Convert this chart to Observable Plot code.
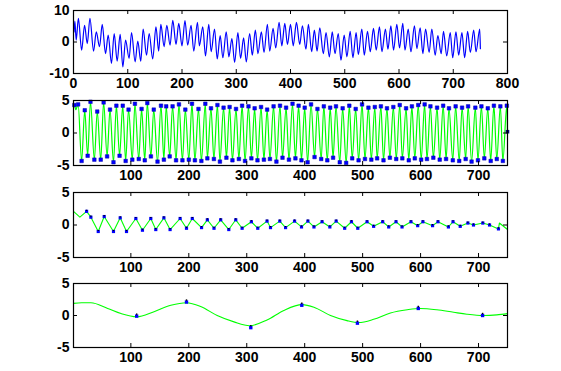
<!DOCTYPE html>
<html><head><meta charset="utf-8">
<script src="https://cdn.jsdelivr.net/npm/d3@7"></script>
<script src="https://cdn.jsdelivr.net/npm/@observablehq/plot@0.6"></script>
<style>
body{margin:0;background:#fff;}
#fig{position:relative;width:561px;height:371px;background:#fff;overflow:hidden;}
#fig svg{position:absolute;left:0;}
</style></head><body><div id="fig"></div>
<script>
// Signal extrema (panel 1) and IMF1 (panel 2) share the same sample times
const sigT = [1,2.5,5,9,15,20.4,25.4,30.3,37,42,48,53,59,64,70,75,80.5,86,91,96,102.5,107,113.6,118.5,124,128.4,134.6,139.5,146,152,157,161,167,172,178,183,189,194,200,205.5,
210.5,216.7,221.7,228.5,232,238.3,243.3,249.4,253.7,260,264.9,270.4,275.3,281.5,286.4,292,297,303,308,313.6,318.5,324.7,329.6,335.2,340,346.3,351.2,357.4,361.7,367.9,372.8,379,384,389.5,394.4,400,405,
411,417,422,428.5,433,439,444,449,454,460.5,465.5,471.6,477,482,488,493,499,504,510,515,521,525,531.5,536,542,547,553,558,564,568.5,575,579.6,585,590,596,601,607,
611,617,622,628.5,633,639,644,649,655.6,660.5,666.7,671.6,677.8,682,688,694.5,699,705,710,716,721,726.5,731.5,737.7,742,748.8,750];
const sigV = [3.2,6.6,0.6,7.5,-2.6,5.3,-0.5,7.5,-2.9,3.2,-1.5,5.6,-3.7,2.2,-6.8,2.7,-6.1,2.4,-7.9,0.6,-5.2,3.0,-6.3,0.3,-6.1,4.1,-4.2,2.7,-5.4,4.8,-2.9,5.6,-1.5,5.3,-1.0,6.9,-0.8,5.9,-1.2,6.8,
-1.0,5.3,-2.9,6.2,-1.2,4.8,-4.4,5.6,-3.1,4.1,-5.4,2.0,-5.0,3.2,-4.7,1.1,-6.5,3.0,-5.2,1.3,-6.3,2.7,-4.2,3.8,-3.7,3.2,-3.3,5.6,-2.9,4.3,-1.9,6.2,-1.2,5.9,-0.8,5.6,-1.2,
6.2,-0.8,5.1,-2.3,5.6,-3.1,3.8,-2.9,4.5,-3.7,3.0,-4.7,3.2,-3.7,2.7,-5.8,2.2,-4.7,3.4,-5.0,3.0,-4.0,4.1,-4.2,3.4,-3.1,4.3,-2.6,4.8,-3.1,4.1,-2.3,5.1,-2.6,5.6,-1.9,5.9,
-2.6,4.1,-3.1,5.1,-2.1,4.5,-3.7,4.1,-3.3,4.1,-4.2,2.0,-3.7,3.4,-4.4,3.0,-5.0,3.2,-4.2,3.0,-5.0,3.4,-3.3,3.8,-3.1,4.1,-2.1];
const imf1V = [4.2,4.3,3.6,4.4,-4.3,3.5,-3.5,4.8,-4.1,3.3,-4.1,4.7,-3.6,3.6,-4.5,4.2,-3.5,4.2,-4.3,3.6,-4.1,4.5,-4.0,3.7,-4.2,4.6,-3.6,3.6,-4.4,4.2,-4.1,4.1,-3.6,4.1,-4.2,4.4,-4.2,3.6,-4.1,4.5,
-4.2,3.7,-4.3,4.5,-3.9,3.8,-4.0,4.3,-4.4,3.9,-3.8,4.0,-4.2,3.7,-4.0,4.2,-4.3,4.1,-3.9,3.8,-4.2,4.0,-4.1,3.6,-4.0,4.1,-4.4,4.2,-3.8,3.9,-4.1,4.5,-3.9,4.2,-4.2,3.9,-4.5,
4.4,-3.7,3.7,-4.0,4.1,-4.2,3.9,-3.8,4.1,-4.5,3.8,-4.6,4.2,-3.9,3.7,-4.2,4.4,-4.0,3.9,-4.1,4.0,-3.9,4.1,-4.2,3.8,-3.8,4.0,-4.0,4.3,-3.9,3.8,-4.2,4.1,-3.9,4.3,-4.1,4.4,
-4.0,4.1,-3.8,3.9,-4.1,4.2,-4.0,3.8,-4.2,4.1,-4.3,3.9,-4.0,4.1,-4.4,3.9,-4.2,4.1,-3.9,3.8,-4.3,4.2,-4.0,4.1,-4.3,4.2,0.2];
// IMF2 (panel 3)
const imf2T = [1,12,23.6,31,43.7,54,70,81.6,92.5,108.6,120,134.4,143,157,167.7,185,196,206,222,232,243.5,255,269,281,292,308,319,335,341,357,367,382.5,394.5,405.5,416,430,443.4,454.3,469,480.7,491.6,507.6,519,534.6,545,557.6,568,583.4,595,604,620.7,630,648,656,668.4,681.6,691.3,707.4,719,734.4,736,750];
const imf2V = [2.1,1.2,2.1,1.2,-1.0,1.3,-1.0,1.1,-1.0,1.0,-0.8,1.0,-0.7,1.1,-0.7,1.0,-0.5,1.0,-0.4,0.8,-0.5,0.8,-0.7,0.8,-0.5,0.5,-0.5,0.6,-0.4,0.6,-0.4,0.6,-0.3,0.6,-0.3,0.5,-0.3,0.6,-0.5,0.5,-0.5,0.5,-0.2,0.5,-0.3,0.5,-0.3,0.5,-0.1,0.5,-0.1,0.5,-0.3,0.5,-0.2,0.3,0.0,0.3,0.0,-0.6,0.3,-0.7];
// IMF3 (panel 4) and its marked extrema
const imf3T = [1,15,31,60,83,110,140,169,196,220.5,249,278,305,335,364,395.6,416,444.5,473,493,519,548,577,599.5,628,657,680,708.5,731.5,750];
const imf3V = [1.9,2.0,2.0,1.1,0.3,-0.2,0.6,1.6,2.0,1.4,0.0,-1.0,-1.6,-0.7,0.8,1.7,1.3,0.0,-0.8,-1.1,-0.6,0.4,0.9,1.1,0.9,0.5,0.2,0.0,0.1,0.3];
const mk3T = [110,196,307,395,491,596,707];
const mk3V = [-0.1,2.1,-1.9,1.6,-1.2,1.1,0.0];
// Tick labels
const xTicks1 = [0,100,200,300,400,500,600,700,800];
const xTicks = [100,200,300,400,500,600,700];
const yTicks1 = [-10,0,10];
const yTicks = [-5,0,5];

const BLUE = "#0000ff", GREEN = "#00ff00";
const W = 561, ML = 73, MR = 54, PW = W - ML - MR;

function panel({top, ph, xDomain, yDomain, xt, yt, marks}) {
  const mt = 10, mb = 17;
  const svg = Plot.plot({
    width: W, height: mt + ph + mb,
    marginLeft: ML, marginRight: MR, marginTop: mt, marginBottom: mb,
    style: {fontFamily: "'Liberation Sans', Arial, sans-serif", fontSize: "14px", fontWeight: "bold", background: "white", color: "black", overflow: "visible"},
    x: {domain: xDomain, ticks: xt, tickSize: 0, tickPadding: 5, tickFormat: d => String(d), label: null},
    y: {domain: yDomain, ticks: yt, tickSize: 0, tickPadding: 4, tickFormat: d => String(d), label: null},
    marks: [
      ...marks,
      Plot.ruleX(xt, {x: d => d, insetTop: ph - 4, stroke: "black"}),
      Plot.ruleX(xt, {x: d => d, insetBottom: ph - 4, stroke: "black"}),
      Plot.ruleY(yt, {y: d => d, insetRight: PW - 4, stroke: "black"}),
      Plot.ruleY(yt, {y: d => d, insetLeft: PW - 4, stroke: "black"}),
      Plot.frame({stroke: "black", strokeWidth: 1.2})
    ]
  });
  svg.style.top = top + "px";
  document.getElementById("fig").appendChild(svg);
}

const sig = sigT.map((t, i) => ({t, v: sigV[i]}));
const imf1 = sigT.map((t, i) => ({t, v: imf1V[i], i}));
const imf1Mk = imf1.filter(d => d.i > 0 && d.i !== 2 && d.i < imf1.length - 1);
const imf1End = imf1.slice(-1);
const imf2 = imf2T.map((t, i) => ({t, v: imf2V[i], i}));
const imf2Mk = imf2.filter(d => d.i > 1 && d.i < imf2.length - 2);
const imf3 = imf3T.map((t, i) => ({t, v: imf3V[i]}));
const mk3 = mk3T.map((t, i) => ({t, v: mk3V[i]}));

panel({top: 0, ph: 63, xDomain: [0, 800], yDomain: [-10, 10], xt: xTicks1, yt: yTicks1, marks: [
  Plot.line(sig, {x: "t", y: "v", stroke: BLUE, strokeWidth: 1.2, curve: "monotone-x"})
]});
panel({top: 90, ph: 65, xDomain: [1, 750], yDomain: [-5, 5], xt: xTicks, yt: yTicks, marks: [
  Plot.line(imf1, {x: "t", y: "v", stroke: GREEN, strokeWidth: 1.2, curve: "monotone-x"}),
  Plot.dot(imf1Mk, {x: "t", y: "v", symbol: "square", r: 2, fill: BLUE, stroke: "#0000aa", strokeWidth: 0.5}),
  Plot.dot(imf1End, {x: "t", y: "v", symbol: "square", r: 2, fill: "#000080"})
]});
panel({top: 182, ph: 65, xDomain: [1, 750], yDomain: [-5, 5], xt: xTicks, yt: yTicks, marks: [
  Plot.line(imf2, {x: "t", y: "v", stroke: GREEN, strokeWidth: 1.1}),
  Plot.dot(imf2Mk, {x: "t", y: "v", symbol: "square", r: 1.8, fill: BLUE}),
  Plot.dot(imf2Mk, {x: "t", y: "v", symbol: "square", r: 0.7, fill: "black", dy: -1})
]});
panel({top: 273, ph: 64, xDomain: [1, 750], yDomain: [-5, 5], xt: xTicks, yt: yTicks, marks: [
  Plot.line(imf3, {x: "t", y: "v", stroke: GREEN, strokeWidth: 1.1, curve: "monotone-x"}),
  Plot.dot(mk3, {x: "t", y: "v", symbol: "square", r: 1.9, fill: BLUE}),
  Plot.dot(mk3, {x: "t", y: "v", symbol: "square", r: 0.8, fill: "black", dy: -2})
]});
</script></body></html>
